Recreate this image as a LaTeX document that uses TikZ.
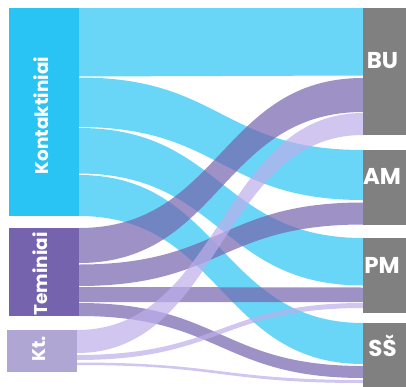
\documentclass[tikz,border=0pt]{standalone}
\usepackage{fontspec}
\newfontfamily\labfont{Poppins}
\definecolor{kcol}{RGB}{41,196,243}
\definecolor{tcol}{RGB}{117,99,174}
\definecolor{ktcol}{RGB}{175,166,211}
\definecolor{ktflowcol}{RGB}{188,174,234}
\definecolor{rcol}{RGB}{128,128,128}
\newcommand\sflow[6]{%
  \fill[#1] (#2,#3) .. controls (221,#3) and (221,#5) .. (363,#5)
    -- (363,#6) .. controls (221,#6) and (221,#4) .. (#2,#4) -- cycle;}
\begin{document}
\begin{tikzpicture}[x=1bp,y=-1bp,
  kflow/.style={fill=kcol,fill opacity=0.7},
  tflow/.style={fill=tcol,fill opacity=0.7},
  ktflow/.style={fill=ktflowcol,fill opacity=0.7},
  bar/.style={draw=none,inner sep=0pt,outer sep=0pt,rectangle},
  llab/.style={text=white,font=\labfont\bfseries\fontsize{18.5}{18.5}\selectfont,rotate=90,inner sep=0pt},
  rlab/.style={text=white,font=\labfont\bfseries\fontsize{23}{23}\selectfont,anchor=base,inner sep=0pt}]
\useasboundingbox (0,0) rectangle (406,387);
% flows from Kontaktiniai
\sflow{kflow}{79}{8}{76.5}{8}{75.5}
\sflow{kflow}{79}{77.5}{127}{150}{200}
\sflow{kflow}{79}{128}{173.5}{238}{285.5}
\sflow{kflow}{79}{175}{216}{323}{364}
% flows from Teminiai
\sflow{tflow}{79}{228}{263}{78}{112}
\sflow{tflow}{79}{264.5}{286}{202.5}{224.5}
\sflow{tflow}{79}{287}{302}{287.5}{302}
\sflow{tflow}{79}{303}{316}{366}{378}
% flows from Kt.
\sflow{ktflow}{77}{330}{353}{113}{135}
\sflow{ktflow}{77}{355}{360}{303}{308}
\sflow{ktflow}{77}{362.5}{365}{380}{383}
% left bars
\node[bar,fill=kcol,minimum width=70bp,minimum height=208bp] (K) at (44,112) {};
\node[bar,fill=tcol,minimum width=70bp,minimum height=88bp] (T) at (44,272) {};
\node[bar,fill=ktcol,minimum width=70bp,minimum height=42bp] (Kt) at (42,351) {};
% right bars
\node[bar,fill=rcol,minimum width=43bp,minimum height=127bp] (BU) at (384.5,71.5) {};
\node[bar,fill=rcol,minimum width=43bp,minimum height=75bp] (AM) at (384.5,187.5) {};
\node[bar,fill=rcol,minimum width=43bp,minimum height=75bp] (PM) at (384.5,275.5) {};
\node[bar,fill=rcol,minimum width=43bp,minimum height=64bp] (SS) at (384.5,355) {};
% labels
\node[llab] (Klab) at (41,115.5) {Kontaktiniai};
\node[llab] (Tlab) at (40,274) {Teminiai};
\node[llab] (Ktlab) at (39,349) {Kt.};
\node[rlab] (BUlab) at (382.5,68.3) {BU};
\node[rlab] (AMlab) at (382,184) {AM};
\node[rlab] (PMlab) at (382,273) {PM};
\node[rlab] (SSlab) at (382.5,356.7) {SŠ};
\end{tikzpicture}
\end{document}
